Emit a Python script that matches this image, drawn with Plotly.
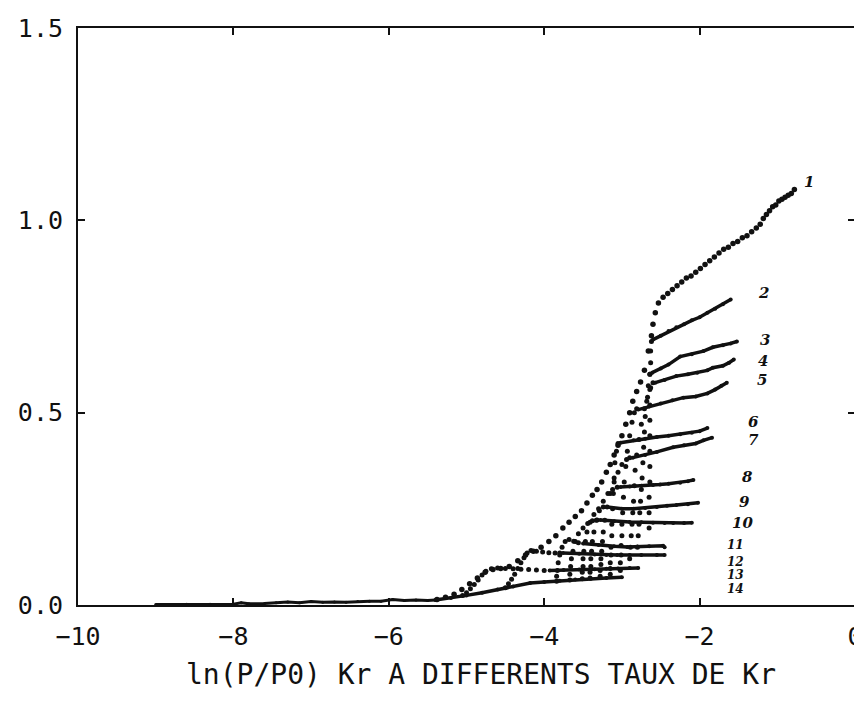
import plotly.graph_objects as go

# ---------------- data ----------------
# common low-pressure part shared by all isotherms
base_x = [-9.0, -8.6, -8.3, -8.0, -7.9, -7.8, -7.6, -7.45, -7.3, -7.15, -7.0, -6.85, -6.7,
          -6.55, -6.4, -6.25, -6.1, -5.95, -5.8, -5.65, -5.5, -5.4]
base_y = [0.001, 0.002, 0.002, 0.002, 0.006, 0.003, 0.004, 0.006, 0.008, 0.006, 0.009, 0.007,
          0.008, 0.007, 0.009, 0.010, 0.010, 0.014, 0.012, 0.013, 0.012, 0.013]

# curve 1 (fully dotted)
c1_x = [-5.38, -5.27, -5.16, -5.06, -4.96, -4.86, -4.76, -4.66, -4.56, -4.45, -4.34, -4.24,
        -4.14, -4.04, -3.94, -3.85, -3.76, -3.68, -3.60, -3.52, -3.45, -3.38, -3.32, -3.26,
        -3.20, -3.15, -3.10, -3.05, -3.00, -2.95, -2.90, -2.86, -2.81, -2.76, -2.71, -2.66,
        -2.62, -2.60, -2.57, -2.53, -2.47, -2.41, -2.35, -2.29, -2.23, -2.17, -2.11, -2.05,
        -1.99, -1.93, -1.87, -1.81, -1.75, -1.69, -1.63, -1.57, -1.51, -1.45, -1.39, -1.33,
        -1.27, -1.22, -1.18, -1.14, -1.10, -1.06, -1.02, -0.98, -0.94, -0.90, -0.86, -0.82,
        -0.78]
c1_y = [0.014, 0.020, 0.028, 0.040, 0.055, 0.070, 0.085, 0.092, 0.095, 0.100, 0.115, 0.130,
        0.140, 0.150, 0.165, 0.180, 0.200, 0.215, 0.230, 0.245, 0.265, 0.285, 0.300, 0.320,
        0.345, 0.365, 0.390, 0.415, 0.440, 0.470, 0.500, 0.530, 0.555, 0.580, 0.610, 0.660,
        0.700, 0.730, 0.760, 0.785, 0.800, 0.810, 0.820, 0.830, 0.840, 0.850, 0.855, 0.865,
        0.875, 0.885, 0.895, 0.905, 0.915, 0.925, 0.930, 0.940, 0.945, 0.955, 0.960, 0.970,
        0.980, 0.990, 1.005, 1.015, 1.025, 1.035, 1.040, 1.050, 1.055, 1.060, 1.065, 1.070,
        1.080]

# rising (dotted) parts of curves 2..13
rise_x = {
    2: [-2.65, -2.65, -2.65, -2.64, -2.64, -2.64, -2.64, -2.64, -2.64, -2.64, -2.64, -2.63, -2.63, -2.62],
    3: [-2.80, -2.79, -2.78, -2.77, -2.76, -2.75, -2.74, -2.73, -2.72, -2.71, -2.70, -2.68, -2.66, -2.64],
    4: [-2.90, -2.89, -2.88, -2.87, -2.86, -2.85, -2.84, -2.83, -2.81, -2.78, -2.75, -2.71, -2.67, -2.63, -2.60],
    5: [-3.02, -3.02, -3.01, -3.01, -3.00, -3.00, -2.99, -2.98, -2.97, -2.95, -2.93, -2.90, -2.87, -2.84, -2.81],
    6: [-3.15, -3.15, -3.15, -3.14, -3.14, -3.13, -3.13, -3.12, -3.11, -3.10, -3.09, -3.07, -3.05],
    7: [-3.28, -3.28, -3.27, -3.27, -3.26, -3.25, -3.24, -3.22, -3.19, -3.15, -3.10, -3.05, -3.00, -2.94, -2.90],
    8: [-3.41, -3.41, -3.40, -3.40, -3.39, -3.38, -3.36, -3.33, -3.29, -3.24, -3.18, -3.12, -3.06],
    9: [-3.51, -3.51, -3.50, -3.50, -3.49, -3.47, -3.45, -3.41, -3.36, -3.30, -3.24],
    10: [-3.67, -3.67, -3.66, -3.65, -3.63, -3.60, -3.56, -3.50, -3.44, -3.38, -3.32],
    11: [-3.84, -3.84, -3.83, -3.82, -3.80, -3.77, -3.73, -3.68, -3.62, -3.56],
    12: [-4.50, -4.46, -4.42, -4.38, -4.34, -4.30, -4.26, -4.22, -4.17, -4.10, -4.02, -3.94, -3.86, -3.80],
    13: [-5.05, -5.00, -4.95, -4.90, -4.85, -4.80, -4.75, -4.68, -4.60, -4.50, -4.40, -4.30, -4.20, -4.10, -4.00],
}
rise_y = {
    2: [0.20, 0.24, 0.28, 0.32, 0.36, 0.40, 0.44, 0.48, 0.52, 0.56, 0.60, 0.63, 0.66, 0.685],
    3: [0.15, 0.18, 0.21, 0.24, 0.27, 0.30, 0.33, 0.37, 0.41, 0.45, 0.49, 0.53, 0.57, 0.60],
    4: [0.12, 0.15, 0.18, 0.21, 0.24, 0.27, 0.31, 0.35, 0.39, 0.43, 0.47, 0.51, 0.54, 0.565, 0.578],
    5: [0.09, 0.11, 0.13, 0.155, 0.18, 0.21, 0.24, 0.28, 0.32, 0.36, 0.40, 0.44, 0.475, 0.50, 0.51],
    6: [0.08, 0.095, 0.11, 0.13, 0.15, 0.18, 0.21, 0.25, 0.29, 0.33, 0.37, 0.40, 0.42],
    7: [0.075, 0.09, 0.105, 0.12, 0.14, 0.165, 0.19, 0.22, 0.255, 0.29, 0.32, 0.345, 0.365, 0.378, 0.383],
    8: [0.070, 0.085, 0.10, 0.12, 0.14, 0.165, 0.19, 0.22, 0.245, 0.27, 0.29, 0.30, 0.306],
    9: [0.068, 0.085, 0.10, 0.12, 0.14, 0.165, 0.19, 0.215, 0.235, 0.25, 0.255],
    10: [0.065, 0.08, 0.10, 0.12, 0.14, 0.165, 0.185, 0.20, 0.212, 0.219, 0.221],
    11: [0.062, 0.075, 0.09, 0.11, 0.13, 0.15, 0.165, 0.17, 0.166, 0.162],
    12: [0.045, 0.055, 0.067, 0.08, 0.095, 0.11, 0.123, 0.135, 0.142, 0.140, 0.138, 0.136, 0.135, 0.135],
    13: [0.025, 0.032, 0.042, 0.053, 0.065, 0.078, 0.088, 0.094, 0.096, 0.095, 0.094, 0.093, 0.092, 0.091, 0.090],
}

# plateau (dense, solid-looking) parts of curves 2..14
plat_x = {
    2: [-2.60, -2.50, -2.40, -2.30, -2.20, -2.10, -2.00, -1.90, -1.80, -1.70, -1.60],
    3: [-2.61, -2.50, -2.40, -2.25, -2.10, -1.95, -1.83, -1.70, -1.60, -1.52],
    4: [-2.57, -2.45, -2.30, -2.15, -2.03, -1.90, -1.83, -1.70, -1.62, -1.56],
    5: [-2.79, -2.65, -2.50, -2.35, -2.21, -2.05, -1.90, -1.80, -1.72, -1.65],
    6: [-3.02, -2.85, -2.70, -2.55, -2.40, -2.25, -2.10, -2.00, -1.90],
    7: [-2.86, -2.70, -2.55, -2.34, -2.20, -2.05, -1.95, -1.84],
    8: [-3.02, -2.90, -2.75, -2.60, -2.51, -2.40, -2.25, -2.15, -2.08],
    9: [-3.19, -3.00, -2.85, -2.70, -2.55, -2.42, -2.30, -2.15, -2.02],
    10: [-3.28, -3.10, -2.90, -2.75, -2.60, -2.45, -2.34, -2.20, -2.10],
    11: [-3.50, -3.30, -3.10, -2.93, -2.80, -2.65, -2.47, -2.45],
    12: [-3.76, -3.55, -3.35, -3.20, -3.06, -2.90, -2.75, -2.55, -2.45],
    13: [-3.93, -3.75, -3.55, -3.35, -3.20, -3.05, -2.90, -2.79],
    14: [-5.40, -5.20, -5.00, -4.80, -4.60, -4.40, -4.18, -4.00, -3.80, -3.60, -3.40, -3.20, -3.00],
}
plat_y = {
    2: [0.690, 0.700, 0.712, 0.722, 0.730, 0.740, 0.748, 0.760, 0.770, 0.782, 0.794],
    3: [0.604, 0.615, 0.625, 0.646, 0.652, 0.660, 0.670, 0.675, 0.680, 0.685],
    4: [0.578, 0.585, 0.595, 0.600, 0.604, 0.610, 0.617, 0.622, 0.630, 0.638],
    5: [0.508, 0.516, 0.524, 0.532, 0.539, 0.542, 0.550, 0.560, 0.570, 0.578],
    6: [0.422, 0.428, 0.432, 0.437, 0.440, 0.444, 0.448, 0.452, 0.460],
    7: [0.383, 0.390, 0.398, 0.410, 0.415, 0.420, 0.428, 0.435],
    8: [0.307, 0.308, 0.310, 0.312, 0.313, 0.315, 0.318, 0.322, 0.325],
    9: [0.255, 0.250, 0.250, 0.252, 0.255, 0.258, 0.260, 0.262, 0.266],
    10: [0.221, 0.218, 0.216, 0.215, 0.214, 0.213, 0.213, 0.213, 0.214],
    11: [0.160, 0.156, 0.153, 0.151, 0.152, 0.153, 0.154, 0.150],
    12: [0.135, 0.133, 0.131, 0.130, 0.130, 0.130, 0.130, 0.130, 0.130],
    13: [0.090, 0.091, 0.092, 0.093, 0.094, 0.095, 0.096, 0.096],
    14: [0.013, 0.018, 0.025, 0.032, 0.040, 0.048, 0.057, 0.060, 0.063, 0.066, 0.068, 0.070, 0.072],
}

curve_labels = ["1", "2", "3", "4", "5", "6", "7", "8", "9", "10", "11", "12", "13", "14"]
label_x = [-0.59, -1.18, -1.16, -1.18, -1.20, -1.31, -1.31, -1.39, -1.42, -1.45, -1.54, -1.54, -1.54, -1.54]
label_y = [1.099, 0.812, 0.690, 0.635, 0.586, 0.477, 0.430, 0.333, 0.268, 0.214, 0.156, 0.112, 0.078, 0.042]

x_ticks = [-10, -8, -6, -4, -2, 0]
y_ticks = [0.0, 0.5, 1.0, 1.5]
x_title = "ln(P/P0) Kr A DIFFERENTS TAUX DE Kr"

# ---------------- figure ----------------
INK = "#111111"
fig = go.Figure()

fig.add_trace(go.Scatter(x=base_x, y=base_y, mode="lines+markers",
                         line=dict(color=INK, width=3), marker=dict(color=INK, size=3),
                         showlegend=False, hoverinfo="skip"))

for k in range(2, 15):
    if k in rise_x:
        fig.add_trace(go.Scatter(x=rise_x[k], y=rise_y[k], mode="markers",
                                 marker=dict(color=INK, size=5),
                                 showlegend=False, hoverinfo="skip"))
    fig.add_trace(go.Scatter(x=plat_x[k], y=plat_y[k], mode="lines+markers",
                             line=dict(color=INK, width=3.5),
                             marker=dict(color=INK, size=4),
                             showlegend=False, hoverinfo="skip"))

fig.add_trace(go.Scatter(x=c1_x, y=c1_y, mode="markers",
                         marker=dict(color=INK, size=5.5),
                         showlegend=False, hoverinfo="skip"))

for i, (lab, lx, ly) in enumerate(zip(curve_labels, label_x, label_y)):
    fig.add_annotation(x=lx, y=ly, text="<b><i>" + lab + "</i></b>", showarrow=False,
                       font=dict(family="DejaVu Serif", size=15 if i < 10 else 12, color=INK))

fig.add_annotation(xref="paper", yref="paper", x=0.519, y=-0.121, xanchor="center",
                   yanchor="middle", text=x_title, showarrow=False,
                   font=dict(family="DejaVu Sans Mono", size=28, color=INK))

axis_font = dict(family="DejaVu Sans Mono", size=25, color=INK)
fig.update_xaxes(range=[-10, 0], tickvals=x_ticks, ticks="inside", ticklen=7, tickwidth=1.5,
                 tickcolor=INK, showline=True, linecolor=INK, linewidth=2, mirror="ticks",
                 showgrid=False, zeroline=False, tickfont=axis_font, ticklabelstandoff=8,
                 ticklabeloverflow="allow", automargin=False)
fig.update_yaxes(range=[0, 1.5], tickvals=y_ticks, tickformat=".1f", ticks="inside",
                 ticklen=7, tickwidth=1.5, tickcolor=INK, showline=True, linecolor=INK,
                 linewidth=2, mirror="ticks", showgrid=False, zeroline=False,
                 tickfont=axis_font, ticklabelstandoff=8, ticklabeloverflow="allow",
                 automargin=False)

# the page body adds an 8px margin, so the figure is sized to fit the 862x703 window
fig.update_layout(width=854, height=695, margin=dict(l=70, r=7, t=20, b=98),
                  paper_bgcolor="white", plot_bgcolor="white", showlegend=False)

fig.write_html("out.html")
